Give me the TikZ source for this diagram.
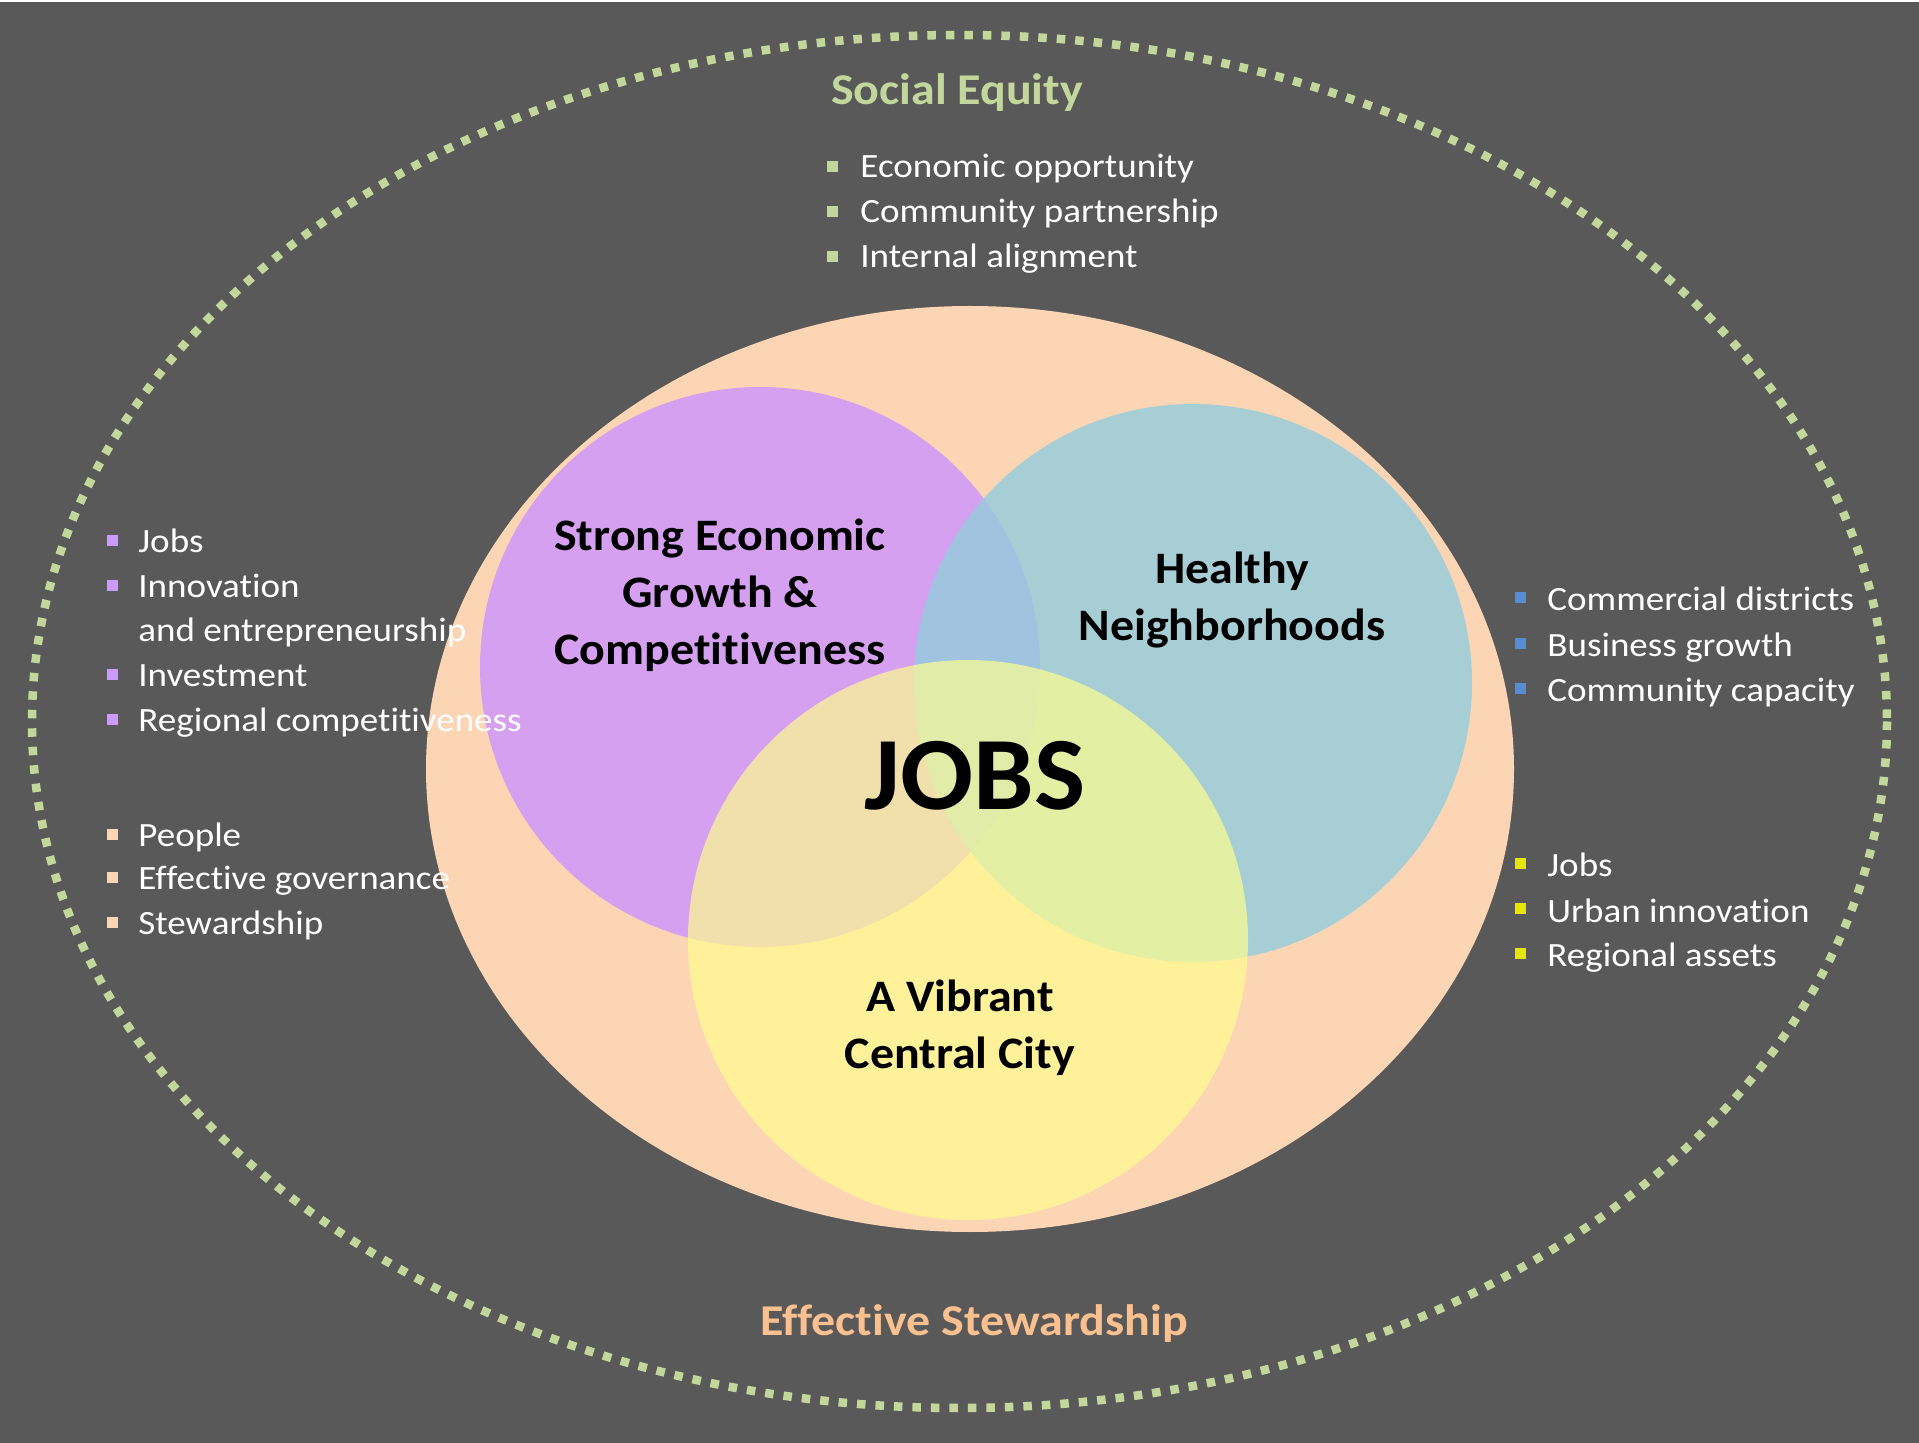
\documentclass[tikz,border=0pt]{standalone}
\usepackage{fontspec}
\setmainfont[Ligatures=NoCommon,FakeStretch=1.09]{Carlito}
\newfontfamily\circfont[Ligatures=NoCommon,FakeStretch=1.065]{Carlito}
\newfontfamily\jobsfont[Ligatures=NoCommon,FakeStretch=1.04]{Carlito}
\definecolor{bg}{HTML}{595959}
\definecolor{dotgreen}{HTML}{C3D69B}
\definecolor{peach}{HTML}{FCD5B5}
\definecolor{purp}{HTML}{CC93FF}
\definecolor{aqua}{HTML}{93CDDD}
\definecolor{yel}{HTML}{FFFF8C}
\definecolor{titlepeach}{HTML}{FAC090}
\definecolor{bpurp}{HTML}{CC99FF}
\definecolor{bpeach}{HTML}{FCD5B5}
\definecolor{bblue}{HTML}{558ED5}
\definecolor{byel}{HTML}{E6E600}
\begin{document}
\begin{tikzpicture}[x=0.5pt,y=-0.5pt,
  bultext/.style={anchor=base west,inner sep=0pt,text=white,font=\fontsize{17}{20}\selectfont},
  sq/.style={rectangle,inner sep=0pt,minimum size=5.5pt},
  circtext/.style={anchor=base,inner sep=0pt,text=black,font=\circfont\fontsize{22.5}{27}\selectfont\bfseries},
  title/.style={anchor=base,inner sep=0pt,font=\fontsize{22}{26}\selectfont\bfseries}]
\useasboundingbox (0,0) rectangle (1919,1443);
\fill[white] (0,0) rectangle (1919,1443);
\fill[bg] (0,2) rectangle (1919,1443);
% outer dotted ellipse
\draw[dotgreen,line width=4.25pt,dash pattern=on 4.25pt off 5pt] (959.5,721.5) ellipse [x radius=927.5,y radius=686.5];
% peach ellipse and venn circles
\fill[peach] (970,769) ellipse [x radius=544,y radius=463];
\fill[purp,fill opacity=0.8] (760,667) circle [radius=280];
\fill[aqua,fill opacity=0.8] (1193,683) circle [radius=279];
\fill[yel,fill opacity=0.68] (968,940) circle [radius=280];
% titles
\node[title,text=dotgreen] (social) at (957,105) {Social Equity};
\node[title,text=titlepeach] (stew) at (974,1335) {Effective Stewardship};
% social equity bullets
\node[sq,fill=dotgreen] (s1b) at (832.5,167) {};
\node[bultext] (s1) at (860,178) {Economic opportunity};
\node[sq,fill=dotgreen] (s2b) at (832.5,212) {};
\node[bultext] (s2) at (860,223) {Community partnership};
\node[sq,fill=dotgreen] (s3b) at (832.5,257) {};
\node[bultext] (s3) at (860,268) {Internal alignment};
% left purple bullets
\node[sq,fill=bpurp] (l1b) at (112.5,541) {};
\node[bultext] (l1) at (138,553) {Jobs};
\node[sq,fill=bpurp] (l2b) at (112.5,586) {};
\node[bultext] (l2) at (138,598) {Innovation};
\node[bultext] (l2c) at (138,642) {and entrepreneurship};
\node[sq,fill=bpurp] (l3b) at (112.5,675) {};
\node[bultext] (l3) at (138,687) {Investment};
\node[sq,fill=bpurp] (l4b) at (112.5,720) {};
\node[bultext] (l4) at (138,732) {Regional competitiveness};
% left peach bullets
\node[sq,fill=bpeach] (p1b) at (112.5,835) {};
\node[bultext] (p1) at (138,847) {People};
\node[sq,fill=bpeach] (p2b) at (112.5,878) {};
\node[bultext] (p2) at (138,890) {Effective governance};
\node[sq,fill=bpeach] (p3b) at (112.5,923) {};
\node[bultext] (p3) at (138,935) {Stewardship};
% right blue bullets
\node[sq,fill=bblue] (r1b) at (1520.5,598) {};
\node[bultext] (r1) at (1547,611) {Commercial districts};
\node[sq,fill=bblue] (r2b) at (1520.5,644) {};
\node[bultext] (r2) at (1547,657) {Business growth};
\node[sq,fill=bblue] (r3b) at (1520.5,689) {};
\node[bultext] (r3) at (1547,702) {Community capacity};
% right yellow bullets
\node[sq,fill=byel] (y1b) at (1520.5,864) {};
\node[bultext] (y1) at (1547,877) {Jobs};
\node[sq,fill=byel] (y2b) at (1520.5,909) {};
\node[bultext] (y2) at (1547,922) {Urban innovation};
\node[sq,fill=byel] (y3b) at (1520.5,954) {};
\node[bultext] (y3) at (1547,967) {Regional assets};
% circle labels
\node[circtext] (g1) at (720,551) {Strong Economic};
\node[circtext] (g2) at (720,608) {Growth \&};
\node[circtext] (g3) at (720,665) {Competitiveness};
\node[circtext] (h1) at (1232,584) {Healthy};
\node[circtext] (h2) at (1232,641) {Neighborhoods};
\node[circtext] (v1) at (960,1011) {A Vibrant};
\node[circtext] (v2) at (960,1068) {Central City};
\node[anchor=base,inner sep=0pt,font=\jobsfont\fontsize{52}{60}\selectfont\bfseries] (jobs) at (975,810) {JOBS};
\end{tikzpicture}
\end{document}
